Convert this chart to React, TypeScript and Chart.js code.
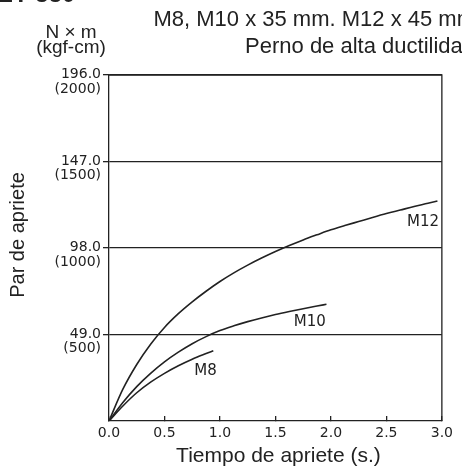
import React, { useEffect, useRef } from 'react';
import { Chart, registerables } from 'chart.js';

Chart.register(...registerables);

// ---- Data ----
const m12Time = [0, 0.125, 0.25, 0.375, 0.5, 0.625, 0.75, 0.875, 1.0, 1.125, 1.25, 1.375, 1.5, 1.625, 1.75, 1.875, 2.0, 2.125, 2.25, 2.375, 2.5, 2.625, 2.75, 2.875, 2.96];
const m12Torque = [0, 18, 32, 43.5, 53, 60.8, 67.5, 73.5, 79, 83.9, 88.3, 92.3, 96, 99.4, 102.6, 105.5, 108.3, 110.7, 113, 115.3, 117.5, 119.5, 121.5, 123.3, 124.6];

const m10Time = [0, 0.125, 0.25, 0.375, 0.5, 0.625, 0.75, 0.875, 1.0, 1.125, 1.25, 1.375, 1.5, 1.625, 1.75, 1.875, 1.96];
const m10Torque = [0, 10.5, 19.5, 27, 33.5, 39, 43.8, 47.8, 51.2, 53.9, 56.3, 58.4, 60.3, 62, 63.6, 65.1, 66.1];

const m8Time = [0, 0.125, 0.25, 0.375, 0.5, 0.625, 0.75, 0.875, 0.94];
const m8Torque = [0, 8.5, 16, 22, 27, 31.3, 35, 38.2, 39.8];

const xTickValues = [0, 0.5, 1.0, 1.5, 2.0, 2.5, 3.0];
const yTickValues = [49, 98, 147, 196];
const yTickNm = ['49.0', '98.0', '147.0', '196.0'];
const yTickKgf = ['(500)', '(1000)', '(1500)', '(2000)'];

const seriesNames = ['M12', 'M10', 'M8'];
const seriesLabelTime = [2.83, 1.81, 0.87];
const seriesLabelTorque = [112.7, 56.1, 28.3];

const titleLine1 = 'M8, M10 x 35 mm. M12 x 45 mm';
const titleLine2 = 'Perno de alta ductilidad';
const unitLine1 = 'N × m';
const unitLine2 = '(kgf-cm)';
const yTitle = 'Par de apriete';
const xTitle = 'Tiempo de apriete (s.)';
const headerText = 'ZY-550';

const toPoints = (xs: number[], ys: number[]) => xs.map((x, i) => ({ x, y: ys[i] }));

const INK = '#222';
const SANS = '"Liberation Sans", Arial, sans-serif';
const WIDE = '"DejaVu Sans", sans-serif';

export default function App() {
  const ref = useRef<HTMLCanvasElement>(null);

  useEffect(() => {
    document.body.style.margin = '0';
    const canvas = ref.current;
    if (!canvas) return;

    const textPlugin = {
      id: 'texts',
      afterDraw(chart: any) {
        const { ctx, chartArea, scales } = chart;
        ctx.save();
        // frame (top & right)
        ctx.strokeStyle = INK;
        ctx.lineWidth = 1.3;
        ctx.beginPath();
        ctx.moveTo(chartArea.left, chartArea.top);
        ctx.lineTo(chartArea.right, chartArea.top);
        ctx.lineTo(chartArea.right, chartArea.bottom);
        ctx.stroke();

        ctx.fillStyle = INK;

        // clipped header
        ctx.font = `bold 24px ${SANS}`;
        ctx.textAlign = 'left';
        ctx.textBaseline = 'alphabetic';
        ctx.fillText(headerText, -2, 2);
        ctx.textBaseline = 'middle';

        // title
        ctx.font = `22px ${SANS}`;
        ctx.textAlign = 'right';
        ctx.fillText(titleLine1, 475, 20);
        ctx.fillText(titleLine2, 475, 47);

        // units
        ctx.font = `19px ${SANS}`;
        ctx.textAlign = 'center';
        ctx.fillText(unitLine1, 71, 33);
        ctx.fillText(unitLine2, 71, 48);

        // x title
        ctx.font = `21px ${SANS}`;
        ctx.fillText(xTitle, (chartArea.left + chartArea.right) / 2 + 3, 456);

        // y title
        ctx.save();
        ctx.translate(18, 235);
        ctx.rotate(-Math.PI / 2);
        ctx.font = `20px ${SANS}`;
        ctx.fillText(yTitle, 0, 0);
        ctx.restore();

        // series labels
        ctx.font = `15px ${WIDE}`;
        ctx.textAlign = 'center';
        seriesNames.forEach((n, i) => {
          const px = scales.x.getPixelForValue(seriesLabelTime[i]);
          const py = scales.y.getPixelForValue(seriesLabelTorque[i]);
          ctx.fillText(n, px, py);
        });
        ctx.restore();
      },
    };

    const lineStyle = {
      showLine: true,
      borderColor: INK,
      backgroundColor: INK,
      borderWidth: 1.6,
      pointRadius: 0,
      cubicInterpolationMode: 'monotone' as const,
      fill: false,
    };

    const chart = new Chart(canvas, {
      type: 'scatter',
      data: {
        datasets: [
          { label: 'M12', data: toPoints(m12Time, m12Torque), ...lineStyle },
          { label: 'M10', data: toPoints(m10Time, m10Torque), ...lineStyle },
          { label: 'M8', data: toPoints(m8Time, m8Torque), ...lineStyle },
        ],
      },
      options: {
        responsive: false,
        animation: false,
        events: [],
        layout: { padding: { top: 75, right: 14, left: 0, bottom: 0 } },
        plugins: { legend: { display: false }, tooltip: { enabled: false }, title: { display: false } },
        scales: {
          x: {
            type: 'linear',
            min: 0,
            max: 3,
            afterBuildTicks: (scale: any) => {
              scale.ticks = xTickValues.map((v) => ({ value: v }));
            },
            afterFit: (scale: any) => {
              scale.height = 50;
            },
            ticks: {
              color: INK,
              font: { family: '"DejaVu Sans", sans-serif', size: 14 },
              padding: 9,
              maxRotation: 0,
              autoSkip: false,
              callback: (v: any) => Number(v).toFixed(1),
            },
            grid: {
              drawOnChartArea: false,
              drawTicks: true,
              tickLength: -5,
              color: INK,
              lineWidth: 1.3,
            },
            border: { display: true, color: INK, width: 1.3 },
          },
          y: {
            type: 'linear',
            min: 0,
            max: 196,
            afterBuildTicks: (scale: any) => {
              scale.ticks = yTickValues.map((v) => ({ value: v }));
            },
            afterFit: (scale: any) => {
              scale.width = 109;
            },
            ticks: {
              color: INK,
              font: { family: '"DejaVu Sans", sans-serif', size: 14, lineHeight: 1.05 },
              padding: 2,
              labelOffset: 7,
              autoSkip: false,
              callback: (v: any) => {
                const i = yTickValues.indexOf(Number(v));
                return i >= 0 ? [yTickNm[i], yTickKgf[i]] : '';
              },
            },
            grid: {
              drawOnChartArea: true,
              drawTicks: true,
              tickLength: 6,
              color: INK,
              lineWidth: 1.3,
            },
            border: { display: true, color: INK, width: 1.3 },
          },
        },
      },
      plugins: [textPlugin],
    } as any);

    return () => chart.destroy();
  }, []);

  return <canvas ref={ref} width={462} height={471} style={{ display: 'block' }} />;
}
